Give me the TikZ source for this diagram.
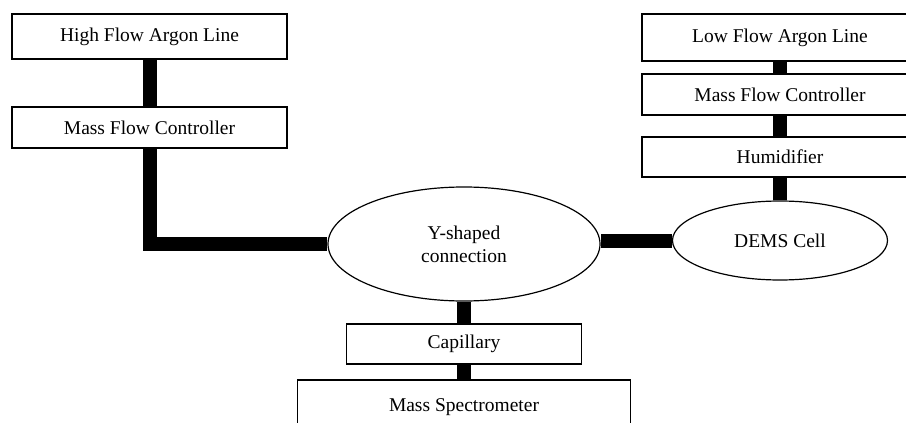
\documentclass[tikz,border=0pt]{standalone}
\usepackage{fontspec}
\setmainfont{Liberation Serif}
\usetikzlibrary{shapes.geometric,backgrounds}
\tikzset{box/.style={draw,line width=1.2pt,fill=white,inner sep=0pt,minimum height=41pt,font=\fontsize{19.5}{23}\selectfont}}
\tikzset{blob/.style={ellipse,draw,line width=1.2pt,fill=white,inner sep=0pt,align=center,font=\fontsize{19.5}{23}\selectfont}}
\tikzset{pipe/.style={line width=14pt,black}}

\begin{document}
\begin{tikzpicture}[x=1pt,y=-1pt]
		\useasboundingbox (0,0) rectangle (906,423);
		\clip (0,0) rectangle (906,423);

		% high flow side
		\node[box,minimum width=275pt,minimum height=45pt] (hfal) at (149.5,36.5) {High Flow Argon Line};
		\node[box,minimum width=275pt] (mfcl) at (149.5,127.5) {Mass Flow Controller};

		% low flow side
		\node[box,minimum width=276pt,minimum height=47pt] (lfal) at (780,37.5) {Low Flow Argon Line};
		\node[box,minimum width=276pt] (mfcr) at (780,94.5) {Mass Flow Controller};
		\node[box,minimum width=276pt,minimum height=40pt] (hum) at (780,157) {Humidifier};

		% ellipses
		\node[blob,minimum width=272pt,minimum height=114pt] (yconn) at (464,244) {Y-shaped\\connection};
		\node[blob,minimum width=215pt,minimum height=79pt] (dems) at (780,240.5) {DEMS Cell};

		% capillary and mass spectrometer
		\node[box,minimum width=235pt,minimum height=40pt] (cap) at (464,344) {Capillary};
		\node[box,minimum width=333pt,minimum height=54pt] (ms) at (464,407) {Mass Spectrometer};

		% tubing
		\begin{scope}[on background layer]
		\draw[pipe] (hfal.south) -- (mfcl.north);
		\draw[pipe] (mfcl.south) |- (yconn.west);
		\draw[pipe] (lfal.south) -- (mfcr.north);
		\draw[pipe] (mfcr.south) -- (hum.north);
		\draw[pipe] (hum.south) -- (dems.north);
		\draw[pipe] (dems.west) -- (dems.west -| yconn.east);
		\draw[pipe] (yconn.south) -- (cap.north);
		\draw[pipe] (cap.south) -- (ms.north);
		\end{scope}

	\end{tikzpicture}
\end{document}
